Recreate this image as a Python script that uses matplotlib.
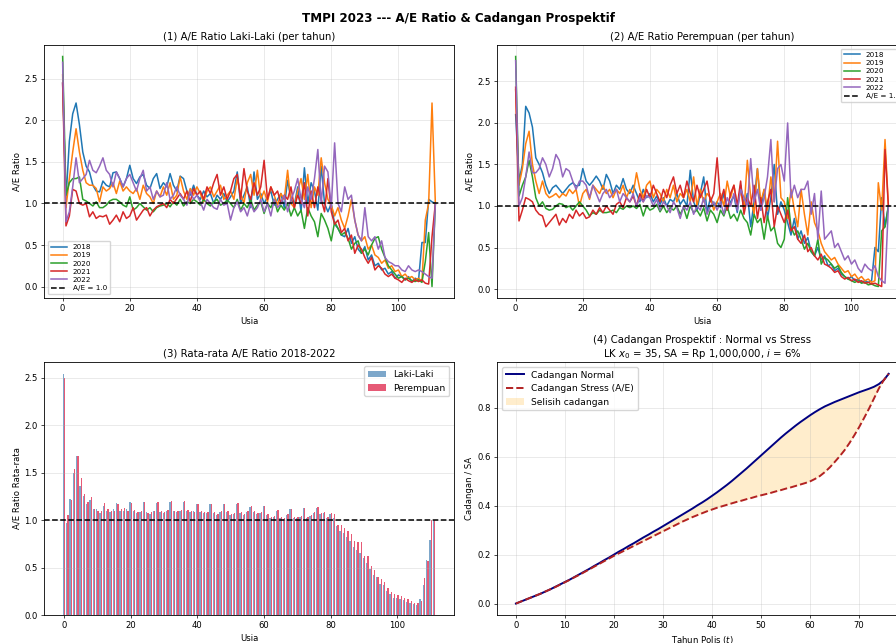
import numpy as np
import matplotlib
matplotlib.use("Agg")
import matplotlib.pyplot as plt

# usia 0..111
ages = np.arange(112)
years = ["2018", "2019", "2020", "2021", "2022"]
colors = ["#1f77b4", "#ff7f0e", "#2ca02c", "#d62728", "#9467bd"]

# A/E ratio laki-laki per tahun
ae_lk_2018 = [2.45, 1.05, 1.75, 2.08, 2.21, 1.95, 1.62, 1.45, 1.38, 1.22,
              1.15, 1.14, 1.27, 1.22, 1.20, 1.37, 1.38, 1.30, 1.20, 1.30,
              1.46, 1.30, 1.24, 1.32, 1.35, 1.22, 1.18, 1.30, 1.36, 1.18,
              1.25, 1.20, 1.36, 1.22, 1.15, 1.33, 1.30, 1.15, 1.10, 1.22,
              1.10, 1.05, 1.15, 1.08, 1.12, 1.00, 1.10, 1.05, 1.12, 1.02,
              1.08, 1.15, 1.38, 1.00, 1.10, 1.20, 0.95, 1.38, 1.05, 1.12,
              1.00, 1.08, 1.15, 0.98, 1.05, 1.12, 0.95, 1.28, 1.05, 0.98,
              1.20, 0.90, 1.43, 1.00, 1.25, 1.15, 0.92, 1.45, 1.00, 0.90,
              1.00, 0.75, 0.70, 0.62, 0.60, 0.70, 0.52, 0.60, 0.45, 0.40,
              0.48, 0.32, 0.38, 0.25, 0.28, 0.20, 0.22, 0.15, 0.18, 0.10,
              0.14, 0.12, 0.08, 0.12, 0.06, 0.10, 0.08, 0.53, 0.53, 1.05,
              1.02, 1.00]
ae_lk_2019 = [2.55, 0.95, 1.30, 1.62, 1.90, 1.62, 1.40, 1.25, 1.22, 1.22,
              1.18, 1.02, 1.20, 1.15, 1.18, 1.25, 1.12, 1.27, 1.15, 1.20,
              1.15, 1.12, 1.18, 1.05, 1.22, 1.12, 1.08, 1.00, 1.15, 1.08,
              1.20, 1.10, 1.25, 1.05, 1.10, 1.32, 1.15, 1.05, 1.18, 1.10,
              1.20, 1.12, 1.02, 1.15, 1.20, 1.08, 1.15, 1.22, 1.05, 1.10,
              1.15, 1.05, 1.30, 1.12, 1.00, 1.25, 1.35, 1.10, 1.40, 1.05,
              1.15, 1.02, 1.20, 1.10, 0.98, 1.12, 1.05, 1.40, 1.00, 0.95,
              1.15, 1.30, 1.05, 1.35, 0.95, 1.20, 1.10, 1.55, 1.25, 1.05,
              0.98, 0.85, 0.95, 0.80, 0.70, 0.85, 1.05, 0.80, 0.62, 0.55,
              0.60, 0.45, 0.50, 0.38, 0.35, 0.28, 0.32, 0.22, 0.25, 0.18,
              0.20, 0.12, 0.15, 0.10, 0.12, 0.08, 0.10, 0.06, 0.80, 1.00,
              2.21, 1.00]
ae_lk_2020 = [2.77, 1.10, 1.25, 1.30, 1.30, 1.32, 1.05, 1.03, 1.00, 0.97,
              1.02, 0.95, 0.95, 0.98, 1.03, 1.05, 1.05, 1.02, 0.98, 0.96,
              1.08, 0.92, 0.95, 1.00, 0.96, 0.92, 0.95, 0.90, 0.95, 0.97,
              0.98, 1.00, 0.96, 1.02, 0.98, 1.05, 0.97, 1.02, 1.00, 1.05,
              1.02, 0.98, 1.05, 1.00, 0.97, 1.02, 1.05, 0.98, 1.00, 1.04,
              1.00, 0.95, 1.05, 0.92, 1.00, 0.95, 1.05, 0.92, 0.98, 1.02,
              0.88, 1.00, 0.95, 1.05, 0.90, 0.98, 0.92, 1.00, 0.85, 0.95,
              0.85, 0.92, 0.70, 0.95, 0.85, 0.78, 0.60, 0.88, 0.80, 0.70,
              0.55, 0.78, 0.70, 0.62, 0.65, 0.58, 0.45, 0.52, 0.55, 0.40,
              0.45, 0.38, 0.50, 0.58, 0.60, 0.45, 0.35, 0.25, 0.20, 0.15,
              0.10, 0.12, 0.08, 0.10, 0.07, 0.06, 0.08, 0.05, 0.30, 0.65,
              0.00, 1.00]
ae_lk_2021 = [2.45, 0.73, 0.85, 1.17, 1.15, 1.00, 0.98, 1.00, 0.84, 0.90,
              0.82, 0.85, 0.84, 0.86, 0.75, 0.80, 0.86, 0.78, 0.90, 0.82,
              0.85, 0.95, 0.80, 0.86, 0.92, 0.95, 0.85, 0.92, 0.96, 0.98,
              1.00, 0.95, 1.05, 1.00, 1.06, 1.12, 1.05, 1.15, 1.02, 1.18,
              1.10, 1.15, 1.05, 1.20, 1.12, 1.25, 1.35, 1.10, 1.20, 1.05,
              1.15, 1.30, 1.35, 1.05, 1.42, 1.15, 1.05, 1.25, 1.10, 1.20,
              1.52, 1.05, 1.20, 1.10, 1.15, 1.00, 1.10, 1.05, 1.20, 0.95,
              1.10, 1.00, 1.25, 0.85, 1.15, 0.95, 1.20, 1.05, 0.90, 1.30,
              0.90, 0.75, 0.80, 0.65, 0.70, 0.55, 0.62, 0.40, 0.50, 0.45,
              0.35, 0.28, 0.35, 0.20, 0.25, 0.22, 0.15, 0.12, 0.15, 0.10,
              0.08, 0.05, 0.10, 0.07, 0.05, 0.08, 0.06, 0.08, 0.04, 0.03,
              0.60, 1.00]
ae_lk_2022 = [2.70, 0.78, 0.90, 1.20, 1.55, 1.25, 1.30, 1.35, 1.52, 1.40,
              1.37, 1.45, 1.55, 1.40, 1.35, 1.20, 1.38, 1.30, 1.20, 1.30,
              1.35, 1.25, 1.15, 1.30, 1.40, 1.15, 1.20, 1.05, 1.15, 1.08,
              1.10, 1.25, 1.05, 1.10, 1.20, 1.10, 1.05, 0.98, 1.15, 1.05,
              1.10, 1.02, 0.92, 1.05, 1.00, 0.95, 0.93, 1.05, 0.98, 1.00,
              0.80, 0.95, 1.02, 0.90, 0.95, 0.85, 1.00, 0.90, 0.95, 1.05,
              0.90, 1.00, 0.85, 1.05, 0.95, 1.00, 1.10, 0.90, 1.05, 1.15,
              1.30, 1.05, 0.95, 1.20, 1.05, 1.30, 1.65, 1.00, 1.45, 1.38,
              0.95, 1.73, 1.00, 0.90, 1.20, 1.05, 1.10, 0.80, 0.62, 0.55,
              0.95, 0.60, 0.55, 0.60, 0.45, 0.55, 0.35, 0.30, 0.28, 0.25,
              0.25, 0.20, 0.18, 0.25, 0.20, 0.18, 0.20, 0.18, 0.15, 0.12,
              0.10, 1.00]

# A/E ratio perempuan per tahun
ae_pr_2018 = [2.10, 1.30, 1.50, 2.20, 2.12, 1.95, 1.58, 1.50, 1.40, 1.25,
              1.15, 1.22, 1.25, 1.20, 1.15, 1.20, 1.25, 1.28, 1.24, 1.25,
              1.45, 1.30, 1.25, 1.30, 1.36, 1.30, 1.20, 1.38, 1.30, 1.15,
              1.25, 1.20, 1.33, 1.20, 1.15, 1.25, 1.15, 1.05, 1.20, 1.10,
              1.15, 1.05, 1.12, 1.02, 1.10, 1.00, 1.08, 1.05, 1.15, 1.02,
              1.08, 1.00, 1.43, 1.05, 0.95, 1.15, 1.35, 0.92, 1.10, 1.00,
              1.05, 0.98, 1.15, 0.95, 1.05, 1.12, 0.92, 1.25, 1.00, 1.15,
              0.75, 1.05, 1.45, 0.95, 1.20, 0.85, 1.10, 1.50, 0.90, 1.05,
              0.95, 0.80, 0.65, 0.85, 0.60, 0.70, 0.55, 0.62, 0.45, 0.40,
              0.50, 0.35, 0.40, 0.28, 0.30, 0.22, 0.25, 0.18, 0.15, 0.12,
              0.15, 0.10, 0.12, 0.08, 0.10, 0.08, 0.10, 0.50, 0.45, 1.10,
              0.75, 1.00]
ae_pr_2019 = [2.40, 1.25, 1.45, 1.75, 1.90, 1.50, 1.30, 1.15, 1.30, 1.15,
              1.10, 1.12, 1.15, 1.10, 1.15, 1.12, 1.20, 1.15, 1.20, 1.00,
              1.15, 1.20, 1.08, 1.25, 1.20, 1.15, 1.25, 1.15, 1.20, 1.10,
              1.20, 1.15, 1.25, 1.10, 1.20, 1.15, 1.40, 1.20, 1.10, 1.25,
              1.30, 1.10, 1.20, 1.15, 1.05, 1.20, 1.10, 1.25, 1.05, 1.15,
              1.10, 1.20, 1.05, 1.35, 1.00, 1.20, 1.05, 1.15, 1.10, 0.95,
              1.05, 1.15, 1.00, 1.30, 1.10, 1.25, 1.00, 1.20, 0.95, 1.55,
              1.10, 0.90, 1.45, 1.05, 1.20, 0.95, 1.35, 1.05, 1.78, 1.10,
              1.05, 0.85, 1.20, 0.95, 0.75, 1.20, 0.90, 0.65, 1.05, 0.80,
              0.70, 0.55, 0.45, 0.40, 0.35, 0.38, 0.30, 0.25, 0.20, 0.22,
              0.15, 0.18, 0.12, 0.15, 0.10, 0.12, 0.08, 0.10, 1.28, 0.95,
              1.80, 1.00]
ae_pr_2020 = [2.80, 1.12, 1.25, 1.35, 1.55, 1.35, 1.10, 1.00, 1.05, 0.97,
              0.95, 0.96, 1.00, 1.03, 1.02, 0.98, 1.00, 0.95, 1.00, 1.05,
              1.00, 0.95, 0.88, 0.92, 0.90, 0.95, 0.92, 0.92, 0.93, 0.95,
              0.92, 0.98, 0.96, 1.00, 0.98, 1.00, 0.97, 1.02, 0.88, 1.00,
              0.95, 0.97, 1.02, 0.93, 1.00, 0.92, 0.98, 0.95, 1.00, 0.90,
              0.98, 0.85, 1.00, 0.92, 0.95, 0.88, 0.98, 0.82, 0.95, 0.90,
              0.80, 0.95, 0.88, 1.00, 0.85, 0.90, 0.82, 0.95, 0.85, 0.80,
              0.65, 0.90, 0.80, 0.85, 0.60, 0.88, 0.70, 0.75, 0.55, 0.50,
              0.60, 1.10, 0.75, 0.65, 0.70, 0.60, 0.48, 0.55, 0.45, 0.40,
              0.60, 0.30, 0.38, 0.35, 0.30, 0.25, 0.28, 0.20, 0.15, 0.12,
              0.10, 0.08, 0.10, 0.07, 0.08, 0.05, 0.06, 0.04, 0.03, 0.70,
              0.75, 1.00]
ae_pr_2021 = [2.43, 0.82, 0.95, 1.10, 1.08, 1.05, 0.95, 0.90, 0.88, 0.75,
              0.80, 0.85, 0.90, 0.77, 0.85, 0.80, 0.90, 0.85, 0.95, 0.88,
              0.92, 0.85, 0.87, 0.95, 0.90, 0.98, 0.92, 1.00, 0.95, 0.90,
              1.02, 1.05, 0.98, 1.10, 1.05, 1.12, 1.00, 1.15, 1.05, 1.20,
              1.10, 1.25, 1.15, 1.05, 1.20, 1.10, 1.25, 1.35, 1.15, 1.25,
              1.10, 1.30, 1.15, 1.05, 1.25, 1.10, 1.20, 1.30, 1.05, 1.15,
              1.58, 1.05, 1.20, 0.95, 1.15, 1.25, 1.00, 1.30, 0.90, 1.10,
              1.00, 1.25, 0.85, 1.10, 0.80, 1.05, 1.20, 0.75, 1.00, 0.90,
              0.80, 0.95, 0.70, 0.75, 0.60, 0.55, 0.65, 0.45, 0.50, 0.40,
              0.35, 0.42, 0.30, 0.28, 0.25, 0.20, 0.22, 0.15, 0.12, 0.14,
              0.10, 0.12, 0.08, 0.10, 0.07, 0.08, 0.06, 0.07, 0.05, 0.03,
              1.68, 1.00]
ae_pr_2022 = [2.75, 1.00, 1.10, 1.35, 1.65, 1.40, 1.40, 1.45, 1.58, 1.50,
              1.35, 1.45, 1.62, 1.55, 1.35, 1.45, 1.42, 1.30, 1.20, 1.30,
              1.30, 1.25, 1.10, 1.25, 1.15, 1.05, 1.15, 1.20, 1.10, 1.15,
              1.20, 1.05, 1.15, 1.10, 1.05, 1.15, 1.00, 1.10, 1.05, 1.12,
              1.10, 1.00, 1.08, 0.95, 1.05, 1.00, 0.92, 1.05, 0.98, 0.85,
              1.00, 0.95, 1.05, 0.90, 1.00, 0.95, 1.10, 0.90, 1.00, 1.05,
              0.95, 1.05, 0.90, 1.10, 1.00, 1.15, 0.95, 1.20, 1.10, 1.00,
              1.57, 1.05, 1.20, 0.95, 1.10, 1.35, 1.80, 1.05, 1.45, 1.50,
              1.30, 2.00, 1.10, 1.25, 1.10, 1.20, 1.20, 1.30, 0.90, 1.15,
              0.60, 1.18, 0.60, 0.65, 0.70, 0.50, 0.55, 0.45, 0.35, 0.40,
              0.30, 0.35, 0.25, 0.20, 0.30, 0.25, 0.22, 0.28, 0.15, 0.10,
              0.07, 1.00]

# rata-rata 2018-2022
avg_lk = [2.54, 0.97, 1.22, 1.50, 1.67, 1.36, 1.25, 1.17, 1.21, 1.12,
          1.12, 1.07, 1.15, 1.10, 1.08, 1.12, 1.18, 1.10, 1.10, 1.12,
          1.19, 1.10, 1.07, 1.08, 1.19, 1.08, 1.06, 1.09, 1.18, 1.08,
          1.07, 1.10, 1.19, 1.10, 1.08, 1.10, 1.19, 1.10, 1.08, 1.09,
          1.17, 1.08, 1.07, 1.07, 1.17, 1.07, 1.05, 1.08, 1.17, 1.08,
          1.05, 1.06, 1.17, 1.07, 1.05, 1.08, 1.14, 1.08, 1.06, 1.07,
          1.15, 1.05, 1.02, 1.03, 1.10, 1.02, 1.01, 1.05, 1.12, 1.02,
          1.02, 1.03, 1.13, 1.02, 1.04, 1.07, 1.13, 1.06, 1.07, 1.02,
          1.06, 1.02, 0.94, 0.88, 0.86, 0.82, 0.78, 0.72, 0.68, 0.65,
          0.60, 0.55, 0.48, 0.42, 0.40, 0.33, 0.32, 0.25, 0.22, 0.18,
          0.18, 0.17, 0.16, 0.14, 0.13, 0.12, 0.11, 0.17, 0.32, 0.58,
          0.79, 1.00]
avg_pr = [2.50, 1.05, 1.21, 1.54, 1.67, 1.44, 1.27, 1.19, 1.24, 1.12,
          1.10, 1.10, 1.18, 1.12, 1.10, 1.10, 1.17, 1.12, 1.13, 1.10,
          1.18, 1.11, 1.08, 1.09, 1.19, 1.07, 1.08, 1.10, 1.19, 1.09,
          1.08, 1.11, 1.20, 1.09, 1.09, 1.11, 1.20, 1.11, 1.09, 1.08,
          1.17, 1.09, 1.08, 1.08, 1.17, 1.08, 1.06, 1.09, 1.17, 1.09,
          1.06, 1.07, 1.18, 1.08, 1.06, 1.09, 1.15, 1.09, 1.07, 1.08,
          1.15, 1.06, 1.03, 1.04, 1.11, 1.03, 1.02, 1.06, 1.12, 1.03,
          1.03, 1.04, 1.13, 1.03, 1.05, 1.08, 1.14, 1.07, 1.08, 1.03,
          1.07, 1.06, 0.95, 0.95, 0.92, 0.88, 0.85, 0.78, 0.77, 0.77,
          0.62, 0.62, 0.52, 0.47, 0.40, 0.38, 0.35, 0.28, 0.24, 0.22,
          0.21, 0.20, 0.18, 0.17, 0.15, 0.13, 0.13, 0.15, 0.39, 0.57,
          1.00, 1.00]

# cadangan prospektif per SA, t = 0..76
tahun = np.arange(77)
res_normal = [0.000, 0.008, 0.016, 0.024, 0.032, 0.040, 0.049, 0.058, 0.068, 0.078,
              0.088, 0.098, 0.109, 0.120, 0.131, 0.142, 0.154, 0.165, 0.177, 0.188,
              0.200, 0.212, 0.223, 0.235, 0.246, 0.258, 0.270, 0.281, 0.293, 0.304,
              0.316, 0.328, 0.340, 0.352, 0.364, 0.376, 0.388, 0.401, 0.413, 0.426,
              0.440, 0.454, 0.469, 0.484, 0.500, 0.517, 0.534, 0.551, 0.569, 0.587,
              0.605, 0.623, 0.641, 0.659, 0.677, 0.694, 0.710, 0.726, 0.741, 0.755,
              0.769, 0.782, 0.794, 0.805, 0.814, 0.823, 0.831, 0.839, 0.847, 0.855,
              0.863, 0.870, 0.877, 0.885, 0.896, 0.912, 0.938]
res_stress = [0.000, 0.008, 0.016, 0.024, 0.032, 0.040, 0.049, 0.058, 0.067, 0.077,
              0.087, 0.097, 0.108, 0.118, 0.129, 0.140, 0.151, 0.162, 0.173, 0.184,
              0.195, 0.205, 0.215, 0.225, 0.235, 0.245, 0.255, 0.265, 0.275, 0.285,
              0.295, 0.305, 0.315, 0.325, 0.335, 0.344, 0.353, 0.361, 0.369, 0.377,
              0.384, 0.391, 0.397, 0.403, 0.409, 0.415, 0.420, 0.426, 0.431, 0.437,
              0.442, 0.447, 0.452, 0.458, 0.463, 0.469, 0.474, 0.480, 0.486, 0.492,
              0.499, 0.509, 0.521, 0.537, 0.556, 0.578, 0.601, 0.626, 0.655, 0.687,
              0.721, 0.758, 0.796, 0.837, 0.878, 0.912, 0.938]

ae_lk = [ae_lk_2018, ae_lk_2019, ae_lk_2020, ae_lk_2021, ae_lk_2022]
ae_pr = [ae_pr_2018, ae_pr_2019, ae_pr_2020, ae_pr_2021, ae_pr_2022]

plt.rcParams.update({
    "font.size": 6.1,
    "axes.titlesize": 7.3,
    "axes.labelsize": 6.1,
    "xtick.labelsize": 6.1,
    "ytick.labelsize": 6.1,
    "axes.linewidth": 0.6,
    "xtick.major.size": 2.2,
    "ytick.major.size": 2.2,
    "xtick.major.width": 0.5,
    "ytick.major.width": 0.5,
    "xtick.major.pad": 2.2,
    "ytick.major.pad": 2.2,
    "axes.titlepad": 3.5,
    "axes.labelpad": 2.5,
    "legend.fontsize": 6.6,
})

fig = plt.figure(figsize=(8.96, 6.43), dpi=100)
w = 0.4576
ax1 = fig.add_axes([0.0491, 0.5365, w, 0.3935])
ax2 = fig.add_axes([0.5547, 0.5365, w, 0.3935])
ax3 = fig.add_axes([0.0491, 0.0435, w, 0.394])
ax4 = fig.add_axes([0.5550, 0.0435, w, 0.393])

fig.suptitle("TMPI 2023 --- A/E Ratio & Cadangan Prospektif", fontsize=8.6,
             fontweight="bold", x=0.512, y=0.982)

for ax, data, title, loc in [(ax1, ae_lk, "(1) A/E Ratio Laki-Laki (per tahun)", "lower left"),
                             (ax2, ae_pr, "(2) A/E Ratio Perempuan (per tahun)", "upper right")]:
    for yr, vals, c in zip(years, data, colors):
        ax.plot(ages, vals, color=c, lw=1.1, label=yr)
    ax.axhline(1.0, color="black", ls="--", lw=1.1, label="A/E = 1.0")
    ax.set_title(title)
    ax.set_xlabel("Usia")
    ax.set_ylabel("A/E Ratio")
    ax.grid(True, alpha=0.3, lw=0.6)
    ax.legend(loc=loc, fontsize=5.2, framealpha=0.8, handlelength=2.2,
              borderpad=0.45, labelspacing=0.3)

# (3) rata-rata
ax3.bar(ages - 0.2, avg_lk, width=0.4, color="steelblue", alpha=0.7, label="Laki-Laki")
ax3.bar(ages + 0.2, avg_pr, width=0.4, color="crimson", alpha=0.7, label="Perempuan")
ax3.axhline(1.0, color="black", ls="--", lw=1.1)
ax3.set_title("(3) Rata-rata A/E Ratio 2018-2022")
ax3.set_xlabel("Usia")
ax3.set_ylabel("A/E Ratio Rata-rata")
ax3.grid(True, axis="y", alpha=0.3, lw=0.6)
ax3.legend(loc="upper right")

# (4) cadangan prospektif
ax4.plot(tahun, res_normal, color="navy", lw=1.4, label="Cadangan Normal")
ax4.plot(tahun, res_stress, color="firebrick", lw=1.4, ls="--", label="Cadangan Stress (A/E)")
ax4.fill_between(tahun, res_normal, res_stress, color="orange", alpha=0.2,
                 lw=0, label="Selisih cadangan")
ax4.set_title("(4) Cadangan Prospektif : Normal vs Stress\n"
              "LK $x_0$ = 35, SA = Rp 1,000,000, $i$ = 6%", linespacing=1.2)
ax4.set_xlabel("Tahun Polis ($t$)")
ax4.set_ylabel("Cadangan / SA")
ax4.grid(True, alpha=0.3, lw=0.6)
ax4.legend(loc="upper left")

fig.savefig("out.png", dpi=100)
